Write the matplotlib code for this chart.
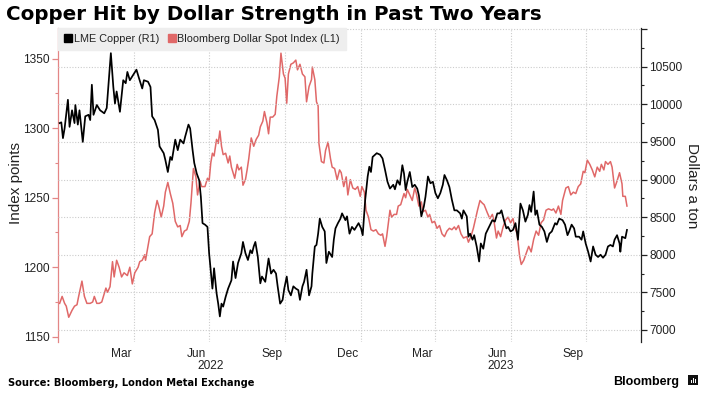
import numpy as np
import pandas as pd
import matplotlib
matplotlib.use("Agg")
import matplotlib.pyplot as plt
import matplotlib.dates as mdates
import matplotlib.transforms as mtransforms
from matplotlib.lines import Line2D
from matplotlib.ticker import FixedLocator, MultipleLocator, FuncFormatter, NullFormatter
from matplotlib.patches import Rectangle

plt.rcParams['font.family'] = ['Liberation Sans', 'DejaVu Sans']

# ---------------- data (days since 2022-01-01) ----------------
copper_days = [0, 2, 4, 6, 10, 12, 15, 18, 19, 22, 24, 28, 31, 35, 37, 39, 41, 45, 49, 54,
               57, 62, 65, 67, 69, 73, 77, 80, 82, 85, 89, 93, 96, 100, 102, 107, 110, 112, 115, 119,
               121, 126, 128, 131, 134, 136, 140, 143, 146, 150, 152, 156, 158, 161, 163, 166, 169, 171, 173, 176,
               179, 181, 185, 187, 190, 192, 194, 196, 198, 201, 204, 208, 210, 213, 216, 220, 222, 225, 228, 231,
               233, 235, 237, 240, 243, 245, 249, 253, 256, 259, 262, 264, 267, 270, 272, 275, 277, 280, 283, 286,
               289, 291, 294, 296, 299, 302, 305, 306, 309, 311, 313, 315, 318, 321, 323, 326, 330, 332, 334, 337,
               340, 342, 346, 348, 351, 354, 357, 362, 365, 367, 370, 373, 375, 377, 379, 384, 388, 391, 394, 397,
               400, 404, 406, 409, 412, 415, 417, 419, 421, 424, 427, 430, 433, 435, 438, 441, 443, 446, 449, 452,
               455, 458, 461, 464, 466, 469, 472, 475, 478, 481, 485, 487, 489, 493, 495, 497, 500, 502, 505, 508,
               510, 513, 516, 520, 524, 527, 530, 533, 535, 538, 541, 543, 546, 549, 552, 555, 558, 561, 564, 567,
               569, 571, 574, 576, 578, 581, 584, 587, 590, 593, 596, 600, 602, 605, 609, 612, 615, 617, 620, 623,
               625, 629, 632, 634, 637, 640, 643, 646, 649, 652, 655, 658, 661, 664, 667, 670, 672, 675, 678, 679,
               681, 685, 687]
copper_usd = [9750, 9760, 9550, 9680, 10060, 9700, 9920, 9750, 9990, 9730, 9920, 9500, 9840, 9860, 9790, 10260, 9860, 9990, 9920, 9880,
              9950, 10680, 10230, 10010, 10170, 9900, 10320, 10280, 10430, 10320, 10390, 10460, 10350, 10210, 10320, 10300, 10230, 9840, 9790, 9660,
              9440, 9350, 9260, 9100, 9300, 9260, 9530, 9390, 9530, 9480, 9570, 9730, 9680, 9390, 9220, 9080, 8990, 8770, 8420, 8400,
              8370, 8020, 7550, 7820, 7490, 7350, 7180, 7350, 7310, 7440, 7550, 7660, 7910, 7690, 7890, 8020, 8170, 8020, 7930, 8060,
              8020, 8110, 8170, 7970, 7620, 7710, 7640, 7950, 7750, 7800, 7750, 7580, 7350, 7400, 7550, 7710, 7530, 7460, 7580, 7550,
              7530, 7400, 7580, 7640, 7800, 7460, 7580, 7750, 8110, 8130, 8280, 8480, 8370, 8310, 7890, 8040, 7970, 8200, 8350, 8420,
              8480, 8550, 8460, 8510, 8280, 8370, 8330, 8420, 8350, 8260, 8730, 9040, 9170, 9100, 9300, 9350, 9330, 9280, 9130, 8970,
              8880, 8930, 8870, 8990, 8930, 9190, 9080, 8860, 8970, 9100, 8900, 8930, 8880, 8790, 8510, 8640, 8770, 9040, 8950, 8970,
              8820, 8750, 8820, 8930, 9060, 8990, 8900, 8730, 8590, 8590, 8550, 8480, 8590, 8510, 8240, 8280, 8200, 8260, 8110, 7910,
              8150, 8080, 8280, 8370, 8460, 8440, 8550, 8550, 8590, 8460, 8350, 8370, 8310, 8330, 8420, 8200, 8680, 8590, 8440, 8530,
              8660, 8570, 8840, 8530, 8590, 8400, 8370, 8310, 8170, 8280, 8310, 8420, 8400, 8480, 8460, 8400, 8260, 8310, 8400, 8350,
              8240, 8240, 8200, 8310, 8150, 8040, 7910, 8110, 8000, 7970, 8000, 7960, 8000, 8110, 8130, 8110, 8200, 8260, 8150, 8040,
              8240, 8220, 8330]

dollar_days = [0, 3, 6, 8, 11, 15, 18, 21, 23, 27, 30, 33, 37, 40, 42, 45, 48, 51, 54, 56,
               58, 61, 64, 66, 69, 72, 75, 78, 82, 85, 88, 91, 95, 97, 100, 103, 104, 107, 109, 112,
               115, 118, 120, 123, 126, 128, 131, 134, 137, 140, 143, 146, 148, 151, 154, 157, 159, 162, 165, 167,
               170, 172, 176, 179, 181, 183, 185, 187, 190, 192, 194, 196, 198, 201, 204, 206, 208, 212, 215, 217,
               220, 222, 225, 227, 229, 232, 235, 238, 241, 243, 246, 248, 251, 253, 255, 258, 261, 263, 266, 268,
               271, 273, 275, 277, 280, 283, 286, 288, 291, 294, 297, 299, 302, 305, 306, 309, 311, 313, 314, 317,
               320, 322, 325, 328, 330, 333, 336, 339, 341, 344, 347, 349, 352, 355, 358, 361, 364, 366, 369, 371,
               374, 377, 380, 383, 386, 389, 391, 394, 396, 400, 402, 405, 408, 410, 413, 417, 419, 421, 424, 427,
               430, 432, 435, 438, 440, 443, 446, 448, 451, 454, 457, 460, 463, 466, 469, 472, 475, 478, 480, 483,
               486, 489, 493, 495, 498, 501, 504, 506, 509, 512, 514, 518, 521, 524, 526, 529, 531, 534, 537, 540,
               543, 546, 549, 551, 554, 557, 559, 562, 565, 568, 571, 574, 577, 580, 583, 586, 589, 592, 596, 598,
               601, 604, 607, 609, 613, 616, 619, 622, 625, 628, 631, 634, 636, 639, 642, 645, 648, 651, 654, 656,
               659, 661, 664, 667, 669, 672, 675, 678, 681, 682, 685, 687]
dollar_idx = [1174, 1179, 1174, 1172, 1164, 1169, 1172, 1173, 1179, 1190, 1179, 1174, 1174, 1175, 1179, 1174, 1174, 1175, 1181, 1185,
              1182, 1186, 1204, 1193, 1205, 1200, 1193, 1196, 1194, 1200, 1188, 1196, 1200, 1204, 1205, 1209, 1205, 1215, 1222, 1224,
              1239, 1248, 1244, 1236, 1244, 1254, 1261, 1253, 1246, 1233, 1229, 1230, 1222, 1226, 1227, 1233, 1246, 1271, 1265, 1252,
              1262, 1258, 1258, 1264, 1262, 1275, 1282, 1280, 1292, 1289, 1298, 1287, 1281, 1282, 1275, 1280, 1272, 1264, 1274, 1270,
              1272, 1259, 1263, 1270, 1278, 1293, 1287, 1292, 1295, 1301, 1305, 1312, 1304, 1296, 1308, 1308, 1310, 1323, 1337, 1354,
              1339, 1336, 1318, 1339, 1346, 1347, 1349, 1342, 1346, 1339, 1337, 1319, 1330, 1335, 1344, 1335, 1319, 1316, 1289, 1276,
              1275, 1284, 1290, 1278, 1272, 1271, 1263, 1270, 1268, 1258, 1265, 1252, 1263, 1257, 1256, 1258, 1251, 1258, 1254, 1241,
              1236, 1227, 1226, 1227, 1224, 1223, 1224, 1215, 1222, 1241, 1236, 1238, 1238, 1244, 1245, 1253, 1250, 1256, 1252, 1248,
              1257, 1253, 1244, 1247, 1240, 1241, 1236, 1238, 1232, 1233, 1228, 1230, 1224, 1222, 1226, 1228, 1227, 1229, 1227, 1230,
              1224, 1221, 1222, 1218, 1222, 1228, 1236, 1241, 1248, 1246, 1245, 1239, 1235, 1238, 1233, 1221, 1226, 1222, 1229, 1234,
              1236, 1232, 1235, 1229, 1224, 1208, 1202, 1205, 1210, 1215, 1211, 1220, 1226, 1223, 1232, 1234, 1241, 1242, 1241, 1242,
              1239, 1244, 1238, 1248, 1257, 1258, 1252, 1254, 1253, 1258, 1260, 1269, 1268, 1277, 1274, 1270, 1265, 1272, 1269, 1274,
              1270, 1276, 1274, 1276, 1272, 1257, 1262, 1268, 1260, 1251, 1251, 1244]

month_labels = ['Mar', 'Jun', 'Sep', 'Dec', 'Mar', 'Jun', 'Sep']
month_label_dates = ['2022-03-16', '2022-06-15', '2022-09-15', '2022-12-16',
                     '2023-03-16', '2023-06-15', '2023-09-15']
grid_dates = ['2022-04-01', '2022-07-01', '2022-10-01', '2023-01-01',
              '2023-04-01', '2023-07-01', '2023-10-01']
year_labels = ['2022', '2023']

title = 'Copper Hit by Dollar Strength in Past Two Years'
source = 'Source: Bloomberg, London Metal Exchange'
legend_labels = ['LME Copper (R1)', 'Bloomberg Dollar Spot Index (L1)']

# ---------------- figure ----------------
W, H = 708, 395
RED = '#e06868'
SPINE_RED = '#e38686'
GRID = '#cccccc'
TXT = '#222222'

base = pd.Timestamp('2022-01-01')
copper_dates = base + pd.to_timedelta(copper_days, unit='D')
dollar_dates = base + pd.to_timedelta(dollar_days, unit='D')

fig = plt.figure(figsize=(W / 100, H / 100), dpi=100)
fig.patch.set_facecolor('white')
ax = fig.add_axes([58 / W, 1 - 342 / H, (641 - 58) / W, (342 - 28) / H])
ax2 = ax.twinx()

ax.plot(dollar_dates, dollar_idx, color=RED, lw=1.1, zorder=3)
ax2.plot(copper_dates, copper_usd, color='black', lw=1.25, zorder=3)

xmin, xmax = pd.Timestamp('2021-12-30'), pd.Timestamp('2023-12-06')
ax.set_xlim(xmin, xmax)
ax.set_ylim(1146.2, 1372.1)
ax2.set_ylim(6840, 11014)

# spines
for s in ['top', 'bottom', 'right']:
    ax.spines[s].set_visible(False)
ax.spines['left'].set_color(SPINE_RED)
ax.spines['left'].set_linewidth(0.9)
for s in ['top', 'bottom', 'left']:
    ax2.spines[s].set_visible(False)
ax2.spines['right'].set_color('#222222')
ax2.spines['right'].set_linewidth(0.9)

# left axis ticks
ax.yaxis.set_major_locator(FixedLocator([1150, 1200, 1250, 1300, 1350]))
ax.yaxis.set_minor_locator(MultipleLocator(25))
ax.tick_params(axis='y', which='major', direction='out', length=4, width=0.9,
               color=SPINE_RED, labelsize=8.6, labelcolor=TXT, pad=2)
ax.tick_params(axis='y', which='minor', direction='out', length=2.5, width=0.8, color=SPINE_RED)

# right axis ticks
ax2.yaxis.set_major_locator(FixedLocator(list(range(7000, 11001, 500))))
ax2.yaxis.set_minor_locator(MultipleLocator(250))
ax2.yaxis.set_major_formatter(FuncFormatter(lambda v, p: '' if v > 10600 else f'{int(v)}'))
ax2.tick_params(axis='y', which='major', direction='out', length=4, width=0.9,
                color='#222222', labelsize=8.6, labelcolor=TXT, pad=2)
ax2.tick_params(axis='y', which='minor', direction='out', length=2.5, width=0.8, color='#222222')

# x axis
ax.xaxis.set_major_locator(FixedLocator(mdates.date2num(pd.to_datetime(grid_dates))))
ax.xaxis.set_major_formatter(NullFormatter())
ax.xaxis.set_minor_locator(FixedLocator(mdates.date2num(pd.to_datetime(month_label_dates))))
ax.xaxis.set_minor_formatter(FuncFormatter(
    lambda v, p: month_labels[p] if p is not None and p < len(month_labels) else ''))
ax.tick_params(axis='x', which='both', length=0, labelsize=8.6, labelcolor=TXT, pad=4.5)

# year labels centred on visible part of each year
trans = mtransforms.blended_transform_factory(ax.transData, ax.transAxes)
for yl in year_labels:
    y0 = max(pd.Timestamp(f'{yl}-01-01'), xmin)
    y1 = min(pd.Timestamp(f'{int(yl) + 1}-01-01'), xmax)
    mid = y0 + (y1 - y0) / 2
    ax.text(mdates.date2num(mid), -0.076, yl, transform=trans, ha='center', va='center',
            fontsize=8.6, color=TXT)

# grids
ax.grid(axis='x', which='major', ls=(0, (1, 1.5)), color=GRID, lw=0.8, zorder=0)
ax2.grid(axis='y', which='major', ls=(0, (1, 1.5)), color=GRID, lw=0.8, zorder=0)
ax.set_axisbelow(True)
ax2.set_axisbelow(True)

# legend
handles = [Line2D([], [], marker='s', ls='none', color='black', markersize=5.2),
           Line2D([], [], marker='s', ls='none', color=RED, markersize=5.2)]
leg = ax2.legend(handles, legend_labels, loc='upper left', bbox_to_anchor=(0, 1), ncol=2,
                 fontsize=7.8, handlelength=0.8, handletextpad=0.1, columnspacing=0.8,
                 borderpad=0.55, borderaxespad=0, frameon=True, fancybox=False)
leg.get_frame().set_facecolor('#eeeeee')
leg.get_frame().set_edgecolor('#eeeeee')
leg.get_frame().set_alpha(1)
for t in leg.get_texts():
    t.set_color(TXT)

# axis titles
fig.text(16 / W, 1 - 183 / H, 'Index points', rotation=90, ha='center', va='center',
         fontsize=11, color=TXT)
fig.text(692 / W, 1 - 186 / H, 'Dollars a ton', rotation=270, ha='center', va='center',
         fontsize=11, color=TXT)

# title, source, logo
fig.text(6 / W, 1 - 20 / H, title, fontsize=14.35, fontweight='bold', va='baseline',
         ha='left', family='DejaVu Sans', color='black')
fig.text(8 / W, 1 - 385.5 / H, source, fontsize=7.1, fontweight='bold', va='baseline',
         ha='left', family='DejaVu Sans', color='black')
fig.text(679 / W, 1 - 385 / H, 'Bloomberg', fontsize=9, fontweight='bold', va='baseline',
         ha='right', family='Liberation Sans', color='black')
fig.add_artist(Rectangle((688 / W, 1 - 385 / H), 10 / W, 10 / H, transform=fig.transFigure,
                         facecolor='#111111', edgecolor='none'))
for bx, bh in [(690.5, 3), (692.8, 5), (695.1, 4)]:
    fig.add_artist(Rectangle((bx / W, 1 - 382.5 / H), 1.2 / W, bh / H, transform=fig.transFigure,
                             facecolor='white', edgecolor='none'))

fig.savefig('out.png', dpi=100, facecolor='white')
